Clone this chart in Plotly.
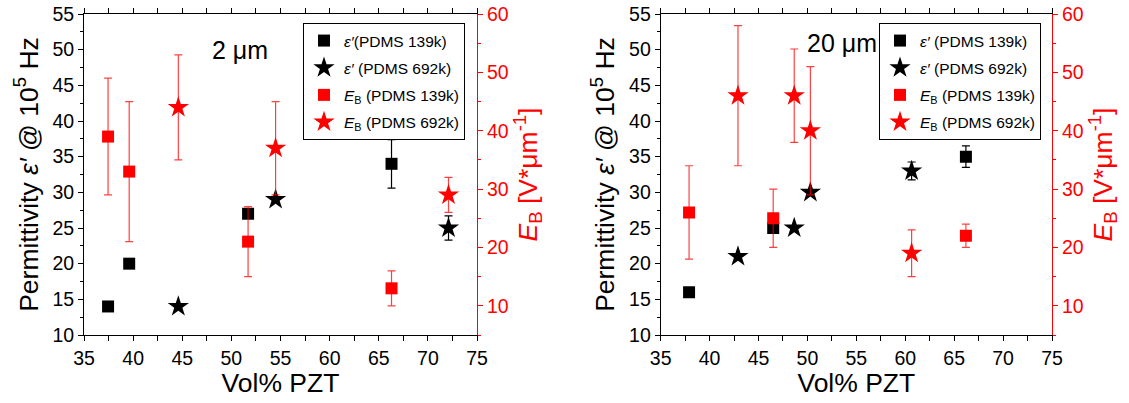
import plotly.graph_objects as go

# ---- Panel 1 (2 µm) ----
p1_eps139_x = [37.45, 39.6, 51.7, 66.3]
p1_eps139_y = [14, 20, 27, 34]
p1_eps139_err = [0, 0, 0, 3.4]
p1_eps692_x = [44.6, 54.5, 72.1]
p1_eps692_y = [14, 29, 25]
p1_eps692_err = [0, 0, 1.7]
p1_eb139_x = [37.45, 39.6, 51.7, 66.3]
p1_eb139_y = [39, 33, 21, 13]
p1_eb139_err = [10, 12, 6, 3]
p1_eb692_x = [44.6, 54.5, 72.1]
p1_eb692_y = [44, 37, 29]
p1_eb692_err = [9, 8, 3]

# ---- Panel 2 (20 µm) ----
p2_eps139_x = [37.9, 46.5, 66.2]
p2_eps139_y = [16, 25, 35]
p2_eps139_err = [0, 0, 1.5]
p2_eps692_x = [42.9, 48.65, 50.3, 60.65]
p2_eps692_y = [21, 25, 30, 33]
p2_eps692_err = [0, 0, 0, 1.25]
p2_eb139_x = [37.9, 46.5, 66.2]
p2_eb139_y = [26, 25, 22]
p2_eb139_err = [8, 5, 2]
p2_eb692_x = [42.9, 48.65, 50.3, 60.65]
p2_eb692_y = [46, 46, 40, 19]
p2_eb692_err = [12, 8, 11, 4]

legend_names_1 = ["<i>ε′</i>(PDMS 139k)", "<i>ε′</i> (PDMS 692k)",
                  "<i>E</i><sub>B</sub> (PDMS 139k)", "<i>E</i><sub>B</sub> (PDMS 692k)"]
legend_names_2 = ["<i>ε′</i> (PDMS 139k)", "<i>ε′</i> (PDMS 692k)",
                  "<i>E</i><sub>B</sub> (PDMS 139k)", "<i>E</i><sub>B</sub> (PDMS 692k)"]

FONT = "Arial, Liberation Sans, sans-serif"
RED = "#FF0000"
RED_ERR = "rgba(255,0,0,0.75)"

fig = go.Figure()
_gid = [0]

def add(x, y, err, name, symbol, color, ecolor, size, xa, ya, legend):
    _gid[0] += 1
    fig.add_trace(go.Scatter(
        x=x, y=y, mode="markers", name=name, legendgroup="g%d" % _gid[0],
        marker=dict(symbol=symbol, color=color, size=size, line=dict(width=0)),
        error_y=dict(type="data", array=err, visible=True, color=ecolor,
                     thickness=1.2, width=4),
        xaxis=xa, yaxis=ya, legend=legend))

# panel 1: black on y, red on y2
add(p1_eps139_x, p1_eps139_y, p1_eps139_err, legend_names_1[0], "square", "black", "black", 12, "x", "y", "legend")
add(p1_eps692_x, p1_eps692_y, p1_eps692_err, legend_names_1[1], "star", "black", "black", 16, "x", "y", "legend")
add(p1_eb139_x, p1_eb139_y, p1_eb139_err, legend_names_1[2], "square", RED, RED_ERR, 12, "x", "y2", "legend")
add(p1_eb692_x, p1_eb692_y, p1_eb692_err, legend_names_1[3], "star", RED, RED_ERR, 16, "x", "y2", "legend")
# panel 2
add(p2_eps139_x, p2_eps139_y, p2_eps139_err, legend_names_2[0], "square", "black", "black", 12, "x2", "y3", "legend2")
add(p2_eps692_x, p2_eps692_y, p2_eps692_err, legend_names_2[1], "star", "black", "black", 16, "x2", "y3", "legend2")
add(p2_eb139_x, p2_eb139_y, p2_eb139_err, legend_names_2[2], "square", RED, RED_ERR, 12, "x2", "y4", "legend2")
add(p2_eb692_x, p2_eb692_y, p2_eb692_err, legend_names_2[3], "star", RED, RED_ERR, 16, "x2", "y4", "legend2")

W, H = 1129, 403
ML, MR, MT, MB = 84, 77, 14, 68
PW = W - ML - MR
PH = H - MT - MB
d1 = [0, (477 - ML) / PW]
d2 = [(660.7 - ML) / PW, 1]

tickfont = dict(family=FONT, size=19.5, color="black")
redtick = dict(family=FONT, size=19.5, color=RED)
titlefont = dict(family=FONT, size=26.5, color="black")
redtitle = dict(family=FONT, size=26.5, color=RED)

def xaxis(domain, anchor):
    return dict(domain=domain, anchor=anchor, range=[35, 75], dtick=5, tick0=35,
                showline=True, linecolor="black", linewidth=1.2, mirror="allticks",
                ticks="outside", ticklen=5, tickcolor="black", tickwidth=1,
                minor=dict(dtick=2.5, ticks="outside", ticklen=3, tickcolor="black"),
                showgrid=False, zeroline=False, tickfont=tickfont, automargin=False,
                title=dict(text="Vol% PZT", font=titlefont, standoff=4))

def yleft(anchor):
    return dict(anchor=anchor, domain=[0, 1], range=[10, 55], dtick=5, tick0=10,
                showline=True, linecolor="black", linewidth=1,
                ticks="outside", ticklen=5, tickcolor="black",
                minor=dict(dtick=2.5, ticks="outside", ticklen=3, tickcolor="black"),
                showgrid=False, zeroline=False, tickfont=tickfont, automargin=False,
                title=dict(text="Permittivity <i>ε′</i> @ 10<sup>5</sup> Hz", font=titlefont, standoff=6))

def yright(over, anchor):
    return dict(overlaying=over, anchor=anchor, side="right", range=[5, 60], dtick=10, tick0=10,
                showline=True, linecolor=RED, linewidth=1,
                ticks="outside", ticklen=5, tickcolor=RED,
                minor=dict(dtick=5, ticks="outside", ticklen=3, tickcolor=RED),
                showgrid=False, zeroline=False, tickfont=redtick, automargin=False,
                title=dict(text="<i>E</i><sub>B</sub> [V*μm<sup>-1</sup>]", font=redtitle, standoff=6))

legend_common = dict(bordercolor="black", borderwidth=1, bgcolor="white",
                     font=dict(family=FONT, size=15.5, color="black"),
                     xanchor="left", yanchor="top", tracegroupgap=4, itemwidth=30)

fig.update_layout(
    width=W, height=H,
    margin=dict(l=ML, r=MR, t=MT, b=MB),
    paper_bgcolor="white", plot_bgcolor="white",
    font=dict(family=FONT),
    xaxis=xaxis(d1, "y"),
    xaxis2=xaxis(d2, "y3"),
    yaxis=yleft("x"),
    yaxis2=yright("y", "x"),
    yaxis3=yleft("x2"),
    yaxis4=yright("y3", "x2"),
    legend=dict(x=(303 - ML) / PW, y=(335 - 23) / PH, **legend_common),
    legend2=dict(x=(879 - ML) / PW, y=(335 - 23) / PH, **legend_common),
    showlegend=True,
    annotations=[
        dict(text="2 μm", x=(210 - ML) / PW, y=(335 - 50) / PH, xref="paper", yref="paper",
             xanchor="left", yanchor="middle",
             showarrow=False, font=dict(family=FONT, size=25, color="black")),
        dict(text="20 μm", x=(805 - ML) / PW, y=(335 - 43) / PH, xref="paper", yref="paper",
             xanchor="left", yanchor="middle",
             showarrow=False, font=dict(family=FONT, size=25, color="black")),
    ],
)

fig.write_html("out.html")
